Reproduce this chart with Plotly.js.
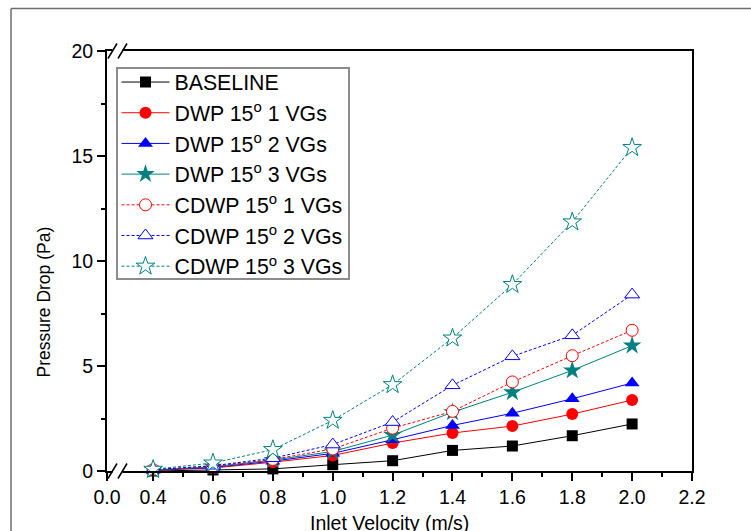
<!DOCTYPE html>
<html>
<head>
<meta charset="utf-8">
<script src="https://cdn.plot.ly/plotly-3.0.1.min.js"></script>
<style>
html,body{margin:0;padding:0;background:#fff;}
#chart{width:751px;height:531px;}
</style>
</head>
<body>
<div id="chart"></div>
<script>
// ---- data ----
var velocity = [0.4, 0.6, 0.8, 1.0, 1.2, 1.4, 1.6, 1.8, 2.0];
var baseline = [0.00, 0.05, 0.10, 0.30, 0.49, 0.98, 1.19, 1.68, 2.24];
var dwp1     = [0.03, 0.14, 0.42, 0.74, 1.33, 1.81, 2.14, 2.71, 3.38];
var dwp2     = [0.04, 0.17, 0.47, 0.84, 1.49, 2.17, 2.75, 3.44, 4.19];
var dwp3     = [0.05, 0.20, 0.52, 0.93, 1.71, 2.80, 3.75, 4.79, 5.97];
var cdwp1    = [0.06, 0.22, 0.55, 1.05, 2.04, 2.84, 4.24, 5.49, 6.70];
var cdwp2    = [0.07, 0.25, 0.61, 1.26, 2.33, 4.08, 5.46, 6.46, 8.40];
var cdwp3    = [0.08, 0.38, 1.02, 2.41, 4.11, 6.33, 8.88, 11.86, 15.40];

var seriesNames = ['BASELINE', 'DWP 15<sup>o</sup> 1 VGs', 'DWP 15<sup>o</sup> 2 VGs', 'DWP 15<sup>o</sup> 3 VGs',
                   'CDWP 15<sup>o</sup> 1 VGs', 'CDWP 15<sup>o</sup> 2 VGs', 'CDWP 15<sup>o</sup> 3 VGs'];
var xTickVals = [0.246, 0.4, 0.6, 0.8, 1.0, 1.2, 1.4, 1.6, 1.8, 2.0, 2.2];
var xTickText = ['0.0', '0.4', '0.6', '0.8', '1.0', '1.2', '1.4', '1.6', '1.8', '2.0', '2.2'];
var xMinorVals = [0.5, 0.7, 0.9, 1.1, 1.3, 1.5, 1.7, 1.9, 2.1];
var yTickVals = [0, 5, 10, 15, 20];

// ---- styling ----
var FONT = 'Arial, "Liberation Sans", sans-serif';
var ML = 107, MR = 59, MT = 51, MB = 60, W = 751, H = 531;
var PW = W - ML - MR, PH = H - MT - MB;
function px(xp){ return (xp - ML) / PW; }
function py(yp){ return (H - MB - yp) / PH; }

var teal = '#008080';
function solid(y, name, color, symbol, size){
  return {x: velocity, y: y, name: name, type: 'scatter', mode: 'lines+markers', cliponaxis: false,
          line: {color: color, width: 1},
          marker: {symbol: symbol, size: size, color: color, line: {width: 0}}};
}
function dashed(y, name, color, symbol, size){
  return {x: velocity, y: y, name: name, type: 'scatter', mode: 'lines+markers', cliponaxis: false,
          line: {color: color, width: 1, dash: '3px,2px'},
          marker: {symbol: symbol, size: size, color: '#ffffff', line: {color: color, width: 1}}};
}

var traces = [
  solid(baseline, seriesNames[0], '#000000', 'square', 11),
  solid(dwp1, seriesNames[1], '#ff0000', 'circle', 12),
  solid(dwp2, seriesNames[2], '#0000ff', 'triangle-up', 13),
  solid(dwp3, seriesNames[3], teal, 'star', 14),
  dashed(cdwp1, seriesNames[4], '#ff0000', 'circle', 12),
  dashed(cdwp2, seriesNames[5], '#0000ff', 'triangle-up', 13),
  dashed(cdwp3, seriesNames[6], teal, 'star', 14)
];

// legend frame, axis-break marks and outer frame
var shapes = [];
shapes.push({type:'rect', xref:'paper', yref:'paper', x0:px(117), x1:px(349), y0:py(279), y1:py(68),
             fillcolor:'#ffffff', line:{color:'#8c8c8c', width:2}, layer:'below'});
[H - MB, MT].forEach(function(yl){
  shapes.push({type:'rect', xref:'paper', yref:'paper', x0:px(112.5), x1:px(122.5), y0:py(yl+2), y1:py(yl-2),
               fillcolor:'#ffffff', line:{width:0}, layer:'above'});
  [112.5, 122.5].forEach(function(xc){
    shapes.push({type:'line', xref:'paper', yref:'paper', x0:px(xc-4.5), y0:py(yl+7.5), x1:px(xc+4.5), y1:py(yl-7.5),
                 line:{color:'#000', width:1.5}, layer:'above'});
  });
});
shapes.push({type:'line', xref:'paper', yref:'paper', x0:px(11), y0:py(8.5), x1:px(760), y1:py(8.5),
             line:{color:'#6e6e6e', width:1.5}, layer:'above'});
shapes.push({type:'line', xref:'paper', yref:'paper', x0:px(11), y0:py(8.5), x1:px(11), y1:py(540),
             line:{color:'#6e6e6e', width:1.5}, layer:'above'});

var layout = {
  width: W, height: H,
  margin: {l: ML, r: MR, t: MT, b: MB, pad: 0},
  paper_bgcolor: '#fff', plot_bgcolor: '#fff',
  font: {family: FONT, size: 19, color: '#000'},
  showlegend: true,
  legend: {x: px(116.5), y: py(61.7), xanchor: 'left', yanchor: 'top',
           bgcolor: 'rgba(0,0,0,0)', borderwidth: 0,
           font: {family: FONT, size: 21.3, color: '#000'}, itemwidth: 48, tracegroupgap: 0},
  xaxis: {range: [0.246, 2.2], tickmode: 'array', tickvals: xTickVals, ticktext: xTickText,
          ticks: 'outside', ticklen: 8, tickwidth: 1.5, tickcolor: '#000',
          showline: true, linecolor: '#000', linewidth: 2, mirror: true,
          showgrid: false, zeroline: false, tickfont: {family: FONT, size: 19.5},
          minor: {tickmode: 'array', tickvals: xMinorVals, ticks: 'outside', ticklen: 4, tickwidth: 1.5, tickcolor: '#000', showgrid: false}},
  yaxis: {range: [0, 20], tickmode: 'array', tickvals: yTickVals,
          ticks: 'outside', ticklen: 8, tickwidth: 1.5, tickcolor: '#000',
          showline: true, linecolor: '#000', linewidth: 2, mirror: true,
          showgrid: false, zeroline: false, tickfont: {family: FONT, size: 19.5},
          minor: {dtick: 2.5, ticks: 'outside', ticklen: 4, tickwidth: 1.5, tickcolor: '#000', showgrid: false}},
  annotations: [
    {text: 'Inlet Velocity (m/s)', xref: 'paper', yref: 'paper', x: px(389), y: py(523),
     xanchor: 'center', yanchor: 'middle', showarrow: false, font: {family: FONT, size: 19.5}},
    {text: 'Pressure Drop (Pa)', xref: 'paper', yref: 'paper', x: px(43.5), y: py(302), textangle: -90,
     xanchor: 'center', yanchor: 'middle', showarrow: false, font: {family: FONT, size: 17.5}}
  ],
  shapes: shapes
};

Plotly.newPlot('chart', traces, layout, {displayModeBar: false, responsive: false});
</script>
</body>
</html>
